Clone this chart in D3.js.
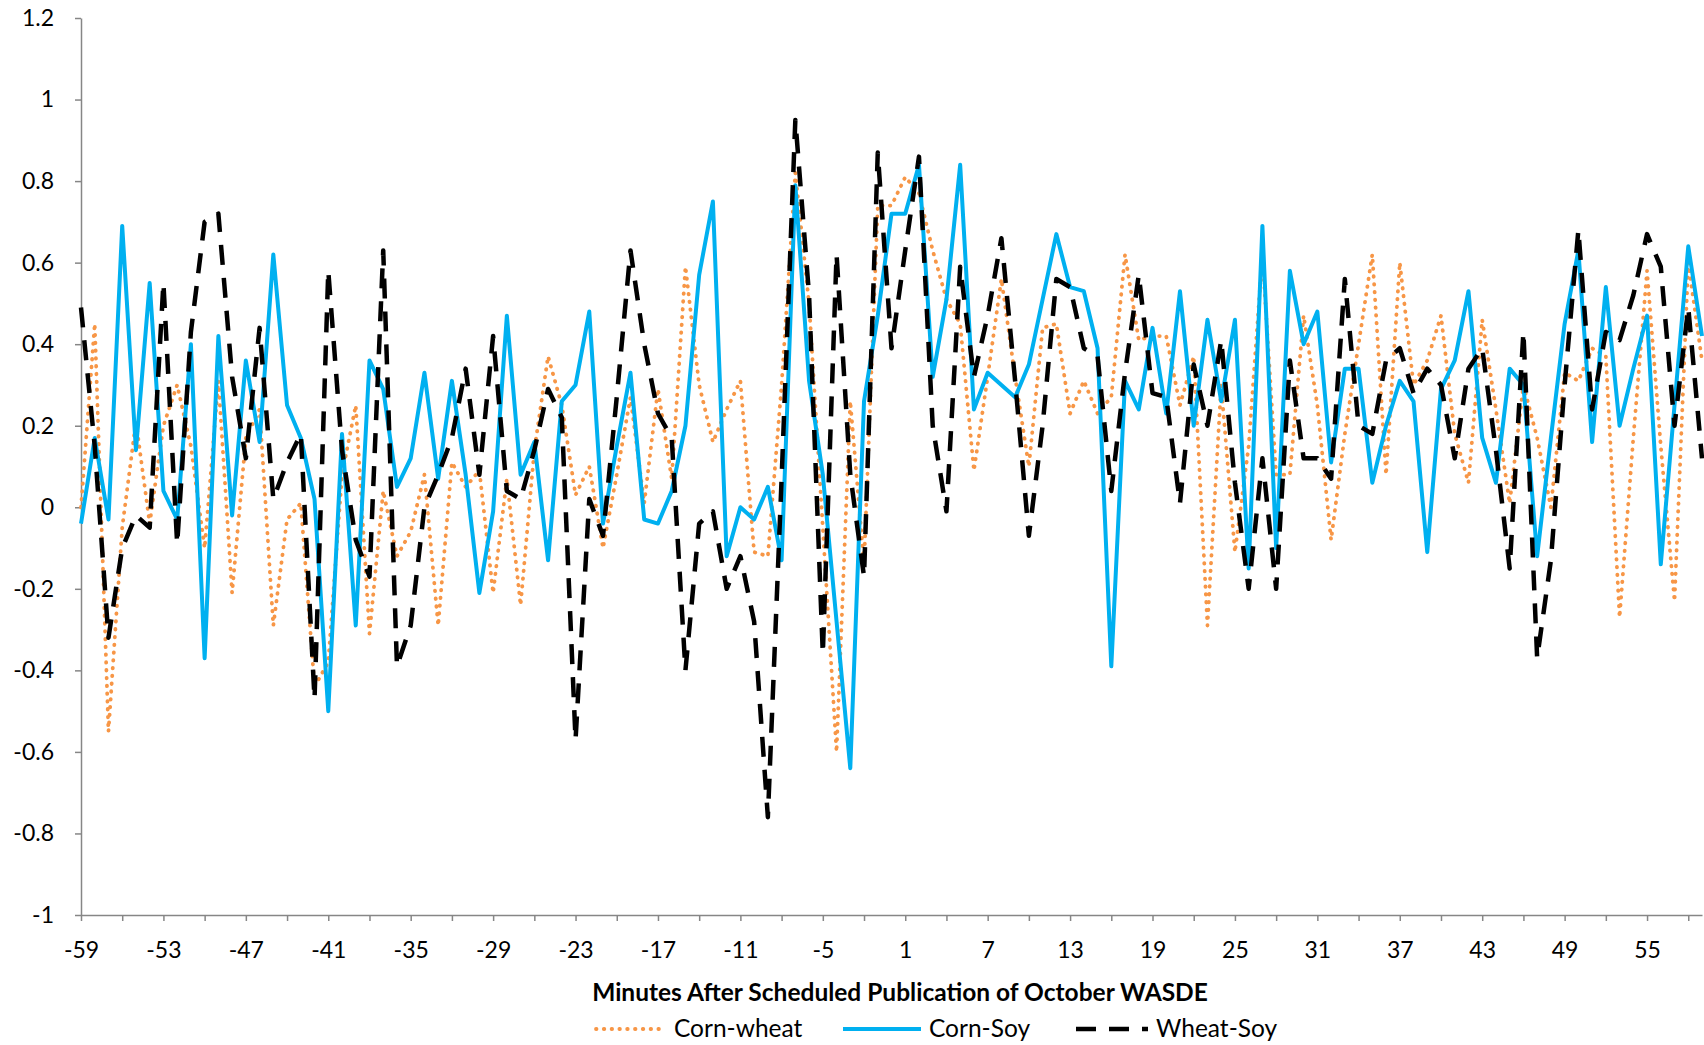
<!DOCTYPE html>
<html>
<head>
<meta charset="utf-8">
<script src="https://cdn.jsdelivr.net/npm/d3@7"></script>
<style>
  body { margin: 0; background: #fff; }
  text { font-family: Lato, "Open Sans", sans-serif; fill: #000; }
</style>
</head>
<body>
<div id="chart"></div>
<script>
// minutes relative to the scheduled release
var minutes = d3.range(-59, 60);

var cornWheat = [0.00, 0.45, -0.55, -0.05, 0.21, -0.04, 0.20, 0.30, 0.15, -0.10,
  0.31, -0.21, 0.17, 0.24, -0.29, -0.03, 0.01, -0.44, -0.38, 0.08,
  0.25, -0.31, 0.04, -0.12, -0.06, 0.08, -0.29, 0.11, 0.05, 0.09,
  -0.21, 0.07, -0.24, 0.14, 0.37, 0.25, 0.03, 0.10, -0.10, 0.08,
  0.27, 0.01, 0.29, 0.07, 0.59, 0.30, 0.16, 0.24, 0.31, -0.11,
  -0.12, 0.30, 0.82, 0.50, -0.05, -0.60, 0.26, -0.14, 0.74, 0.74,
  0.81, 0.77, 0.63, 0.51, 0.45, 0.09, 0.32, 0.56, 0.32, 0.10,
  0.44, 0.45, 0.23, 0.31, 0.23, 0.27, 0.62, 0.41, 0.42, 0.42,
  0.25, 0.37, -0.29, 0.30, -0.11, 0.15, 0.62, 0.08, 0.08, 0.47,
  0.25, -0.08, 0.18, 0.40, 0.62, 0.08, 0.60, 0.30, 0.36, 0.47,
  0.18, 0.06, 0.46, 0.24, 0.01, 0.30, 0.17, 0.00, 0.33, 0.31,
  0.39, 0.37, -0.27, 0.17, 0.58, 0.15, -0.23, 0.60, 0.36];

var cornSoy = [-0.04, 0.17, -0.03, 0.69, 0.14, 0.55, 0.04, -0.03, 0.40, -0.37,
  0.42, -0.02, 0.36, 0.16, 0.62, 0.25, 0.17, 0.02, -0.50, 0.18,
  -0.29, 0.36, 0.29, 0.05, 0.12, 0.33, 0.07, 0.31, 0.08, -0.21,
  -0.01, 0.47, 0.08, 0.16, -0.13, 0.26, 0.30, 0.48, -0.04, 0.15,
  0.33, -0.03, -0.04, 0.04, 0.20, 0.57, 0.75, -0.12, 0.00, -0.03,
  0.05, -0.13, 0.79, 0.31, 0.08, -0.28, -0.64, 0.26, 0.47, 0.72,
  0.72, 0.84, 0.32, 0.51, 0.84, 0.24, 0.33, 0.30, 0.27, 0.35,
  0.51, 0.67, 0.54, 0.53, 0.39, -0.39, 0.31, 0.24, 0.44, 0.23,
  0.53, 0.20, 0.46, 0.26, 0.46, -0.15, 0.69, -0.10, 0.58, 0.40,
  0.48, 0.11, 0.34, 0.34, 0.06, 0.20, 0.31, 0.26, -0.11, 0.29,
  0.36, 0.53, 0.17, 0.06, 0.34, 0.30, -0.12, 0.17, 0.45, 0.63,
  0.16, 0.54, 0.20, 0.34, 0.47, -0.14, 0.25, 0.64, 0.42];

var wheatSoy = [0.49, 0.15, -0.32, -0.10, -0.02, -0.05, 0.55, -0.09, 0.43, 0.70,
  0.72, 0.32, 0.12, 0.44, 0.02, 0.11, 0.18, -0.47, 0.58, 0.14,
  -0.08, -0.17, 0.63, -0.39, -0.29, 0.00, 0.08, 0.17, 0.34, 0.08,
  0.42, 0.04, 0.02, 0.14, 0.29, 0.22, -0.57, 0.02, -0.07, 0.27,
  0.63, 0.40, 0.23, 0.17, -0.40, -0.04, -0.01, -0.20, -0.12, -0.28,
  -0.76, 0.07, 0.95, 0.52, -0.36, 0.62, 0.08, -0.17, 0.87, 0.39,
  0.63, 0.86, 0.20, -0.01, 0.59, 0.32, 0.47, 0.66, 0.31, -0.07,
  0.20, 0.56, 0.54, 0.39, 0.37, 0.04, 0.33, 0.57, 0.28, 0.27,
  0.01, 0.35, 0.20, 0.41, 0.06, -0.20, 0.12, -0.20, 0.36, 0.12,
  0.12, 0.07, 0.56, 0.20, 0.18, 0.36, 0.39, 0.28, 0.34, 0.30,
  0.12, 0.34, 0.39, 0.14, -0.15, 0.43, -0.37, -0.13, 0.30, 0.68,
  0.24, 0.43, 0.41, 0.52, 0.67, 0.59, 0.20, 0.49, 0.12];

var seriesNames = ["Corn-wheat", "Corn-Soy", "Wheat-Soy"];
var yTicks = [1.2, 1, 0.8, 0.6, 0.4, 0.2, 0, -0.2, -0.4, -0.6, -0.8, -1];
var xTickMarks = d3.range(-59, 59, 3);
var xTickLabels = d3.range(-59, 59, 6);
var xTitle = "Minutes After Scheduled Publication of October WASDE";

var width = 1704, height = 1045;
var svg = d3.select("#chart").append("svg")
  .attr("width", width)
  .attr("height", height);

var x = d3.scaleLinear().domain([-59, 59]).range([81, 1702]);
var y = d3.scaleLinear().domain([-1, 1.2]).range([915, 18]);

// axes
var xAxis = svg.append("g")
  .attr("transform", "translate(0," + y(-1) + ")")
  .call(d3.axisBottom(x)
    .tickValues(xTickMarks)
    .tickSizeInner(6)
    .tickSizeOuter(0)
    .tickPadding(21)
    .tickFormat(function (d) { return xTickLabels.indexOf(d) >= 0 ? String(d) : ""; }));

var yAxis = svg.append("g")
  .attr("transform", "translate(" + x(-59) + ",0)")
  .call(d3.axisLeft(y)
    .tickValues(yTicks)
    .tickSizeInner(6)
    .tickSizeOuter(0)
    .tickPadding(21)
    .tickFormat(function (d) { return String(d); }));

svg.selectAll(".domain, .tick line").attr("stroke", "#868686").attr("stroke-width", 1.5);
svg.selectAll(".tick text").style("font-size", "23px").attr("fill", "#000");

// lines
var series = [
  { name: seriesNames[0], values: cornWheat, color: "#F79646", width: 3.8, dash: "0.5,7.3", cap: "round" },
  { name: seriesNames[1], values: cornSoy, color: "#00B0F0", width: 4, dash: null, cap: "butt" },
  { name: seriesNames[2], values: wheatSoy, color: "#000000", width: 4.5, dash: "20,13", cap: "butt" }
];

var line = d3.line()
  .x(function (d, i) { return x(minutes[i]); })
  .y(function (d) { return y(d); });

series.forEach(function (s) {
  svg.append("path")
    .datum(s.values)
    .attr("fill", "none")
    .attr("stroke", s.color)
    .attr("stroke-width", s.width)
    .attr("stroke-linejoin", "round")
    .attr("stroke-linecap", s.cap)
    .attr("stroke-dasharray", s.dash)
    .attr("d", line);
});

// axis title
svg.append("text")
  .attr("x", 900)
  .attr("y", 1001)
  .attr("text-anchor", "middle")
  .style("font-size", "24.5px")
  .style("font-weight", "bold")
  .text(xTitle);

// legend
var legendX = [596, 843, 1076];
var legendLen = [70, 78, 72];
var legend = svg.selectAll(".legend")
  .data(series)
  .enter()
  .append("g")
  .attr("class", "legend")
  .attr("transform", function (d, i) { return "translate(" + legendX[i] + ",1029)"; });

legend.append("line")
  .attr("x1", 0).attr("x2", function (d, i) { return legendLen[i]; })
  .attr("stroke", function (d) { return d.color; })
  .attr("stroke-width", function (d) { return d.width; })
  .attr("stroke-linecap", function (d) { return d.cap; })
  .attr("stroke-dasharray", function (d) { return d.dash; });

legend.append("text")
  .attr("x", function (d, i) { return legendLen[i] + 8; })
  .attr("y", 8)
  .style("font-size", "24.5px")
  .text(function (d) { return d.name; });
</script>
</body>
</html>
